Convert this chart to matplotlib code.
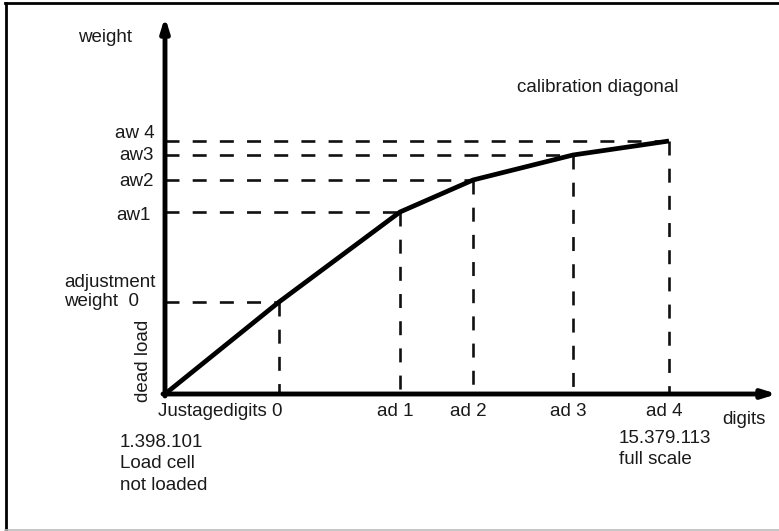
import matplotlib
matplotlib.use('Agg')
import matplotlib.pyplot as plt
from matplotlib.lines import Line2D

# calibration points (schematic units: digits offset / weight offset)
digits = [0, 114, 235, 308, 408, 504]
weight = [0, 92, 182, 214, 239, 253]
weight_labels = ['adjustment\nweight  0', 'aw1', 'aw2', 'aw3', 'aw 4']
digit_labels = ['Justagedigits 0', 'ad 1', 'ad 2', 'ad 3', 'ad 4']

plt.rcParams['font.family'] = ['Liberation Sans', 'DejaVu Sans']
txt = '#1a1a1a'

fig = plt.figure(figsize=(7.79, 5.31), dpi=100)
ax = fig.add_axes([0, 0, 1, 1])
ax.set_xlim(-165, 614)
ax.set_ylim(-137, 394)
ax.axis('off')

# frame of the picture
fig.add_artist(Line2D([0.007, 1.0], [0.994, 0.994], transform=fig.transFigure, color='black', lw=2.0))
fig.add_artist(Line2D([0.008, 0.008], [0.002, 0.995], transform=fig.transFigure, color='black', lw=2.0))
fig.add_artist(Line2D([0.007, 1.0], [0.002, 0.002], transform=fig.transFigure, color='#bbbbbb', lw=1.2))

# dashed guide lines
for d, w in zip(digits[1:], weight[1:]):
    ax.plot([0, d], [w, w], color='#111111', lw=1.9, dashes=(5.3, 5.0))
    ax.plot([d, d], [w, 0], color='#111111', lw=1.9, dashes=(5.3, 5.0))

# calibration diagonal
ax.plot(digits, weight, color='black', lw=3.4, solid_capstyle='butt', solid_joinstyle='miter')

# axes with arrows
ax.annotate('', xy=(0, 377), xytext=(0, -2),
            arrowprops=dict(arrowstyle='-|>,head_length=0.8,head_width=0.25', lw=3.5, color='black',
                            shrinkA=0, shrinkB=0))
ax.annotate('', xy=(612, 0), xytext=(-2, 0),
            arrowprops=dict(arrowstyle='-|>,head_length=0.8,head_width=0.25', lw=3.5, color='black',
                            shrinkA=0, shrinkB=0))

fs = 13.5
ax.text(-87, 357, 'weight', fontsize=fs, color=txt, ha='left', va='center')
offsets = [None, -3, -2, -1, 8]
rights = [None, -14, -11, -11, -10]
for i, w in enumerate(weight[1:]):
    lab = weight_labels[i]
    if i == 0:
        ax.text(-101, w + 10, lab, fontsize=fs, color=txt, ha='left', va='center', linespacing=1.12)
    else:
        ax.text(rights[i], w + offsets[i], lab, fontsize=fs, color=txt, ha='right', va='center')

ax.text(-22, 33, 'dead load', fontsize=fs, color=txt, rotation=90, ha='center', va='center')

ax.text(-7, -17, digit_labels[0], fontsize=fs, color=txt, ha='left', va='center')
for d, lab in zip(digits[2:], digit_labels[1:]):
    ax.text(d - 5, -17, lab, fontsize=fs, color=txt, ha='center', va='center')

ax.text(-45, -70, '1.398.101\nLoad cell\nnot loaded', fontsize=fs, color=txt, ha='left', va='center',
        linespacing=1.33)
ax.text(454, -55, '15.379.113\nfull scale', fontsize=fs, color=txt, ha='left', va='center',
        linespacing=1.33)
ax.text(557, -25, 'digits', fontsize=fs, color=txt, ha='left', va='center')
ax.text(352, 306, 'calibration diagonal', fontsize=fs, color=txt, ha='left', va='center')

fig.savefig('out.png', dpi=100)
